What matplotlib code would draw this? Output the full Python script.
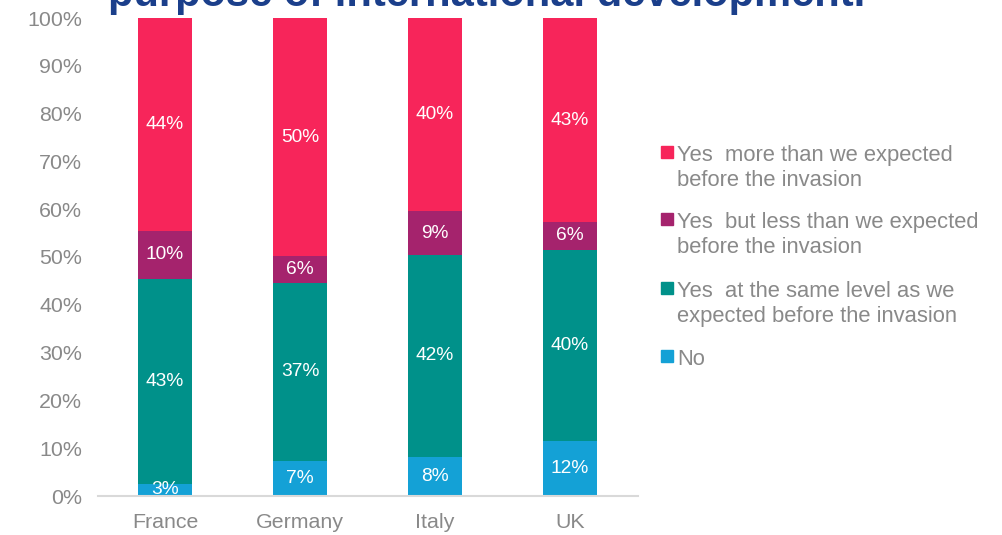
import matplotlib
matplotlib.use("Agg")
import matplotlib.pyplot as plt
from matplotlib.patches import Rectangle
import numpy as np

countries = ["France", "Germany", "Italy", "UK"]
series_names = [
    "No",
    "Yes  at the same level as we\nexpected before the invasion",
    "Yes  but less than we expected\nbefore the invasion",
    "Yes  more than we expected\nbefore the invasion",
]
no_vals = [2.6, 7.3, 8.2, 11.5]
same_vals = [42.8, 37.3, 42.2, 40.0]
less_vals = [10.1, 5.6, 9.2, 5.8]
more_vals = [44.5, 49.8, 40.4, 42.7]
no_labels = ["3%", "7%", "8%", "12%"]
same_labels = ["43%", "37%", "42%", "40%"]
less_labels = ["10%", "6%", "9%", "6%"]
more_labels = ["44%", "50%", "40%", "43%"]
yticks = [0, 10, 20, 30, 40, 50, 60, 70, 80, 90, 100]
ytick_labels = [f"{v}%" for v in yticks]
title = "purpose of international development."

colors = ["#14A1D6", "#00918A", "#A5236D", "#F7255A"]
series = [no_vals, same_vals, less_vals, more_vals]
labels = [no_labels, same_labels, less_labels, more_labels]

plt.rcParams['font.family'] = ['Liberation Sans', 'DejaVu Sans']
W, H = 1003, 535
fig = plt.figure(figsize=(W / 100, H / 100), dpi=100)
ax = fig.add_axes([97.5 / W, 1 - 496 / H, 540 / W, 478 / H])

x = np.arange(len(countries))
bottom = np.zeros(len(countries))
for vals, col, labs in zip(series, colors, labels):
    vals = np.array(vals)
    ax.bar(x, vals, width=0.4, bottom=bottom, color=col, linewidth=0)
    for xi, b, v, lab in zip(x, bottom, vals, labs):
        ax.text(xi, b + v / 2, lab, ha="center", va="center", color="white",
                fontsize=13.8)
    bottom = bottom + vals

ax.set_xlim(-0.5, 3.5)
ax.set_ylim(0, 100)
ax.set_yticks(yticks)
ax.set_yticklabels(ytick_labels)
ax.set_xticks(x)
ax.set_xticklabels(countries)
gray = "#898989"
ax.tick_params(axis="y", length=0, pad=11, labelsize=15.4, labelcolor=gray)
ax.tick_params(axis="x", length=0, pad=12, labelsize=15.4, labelcolor=gray)
for s in ["top", "right", "left"]:
    ax.spines[s].set_visible(False)
ax.spines["bottom"].set_color("#D9D9D9")
ax.spines["bottom"].set_linewidth(1.5)

# legend (top-to-bottom order reversed from stacking)
legend_y = [152, 219, 288, 356]
for idx, yy in zip([3, 2, 1, 0], legend_y):
    fig.patches.append(Rectangle((661 / W, 1 - (yy + 6) / H), 12 / W, 12 / H,
                                 transform=fig.transFigure, color=colors[idx]))
    fig.text(677 / W, 1 - (yy - 7) / H, series_names[idx], ha="left", va="top",
             color=gray, fontsize=15.8, linespacing=1.27)

fig.text(108 / W, 1 - 6 / H, title, ha="left", va="baseline", color="#1B3F8B",
         fontsize=30, fontweight="bold")

fig.savefig("out.png", dpi=100)
